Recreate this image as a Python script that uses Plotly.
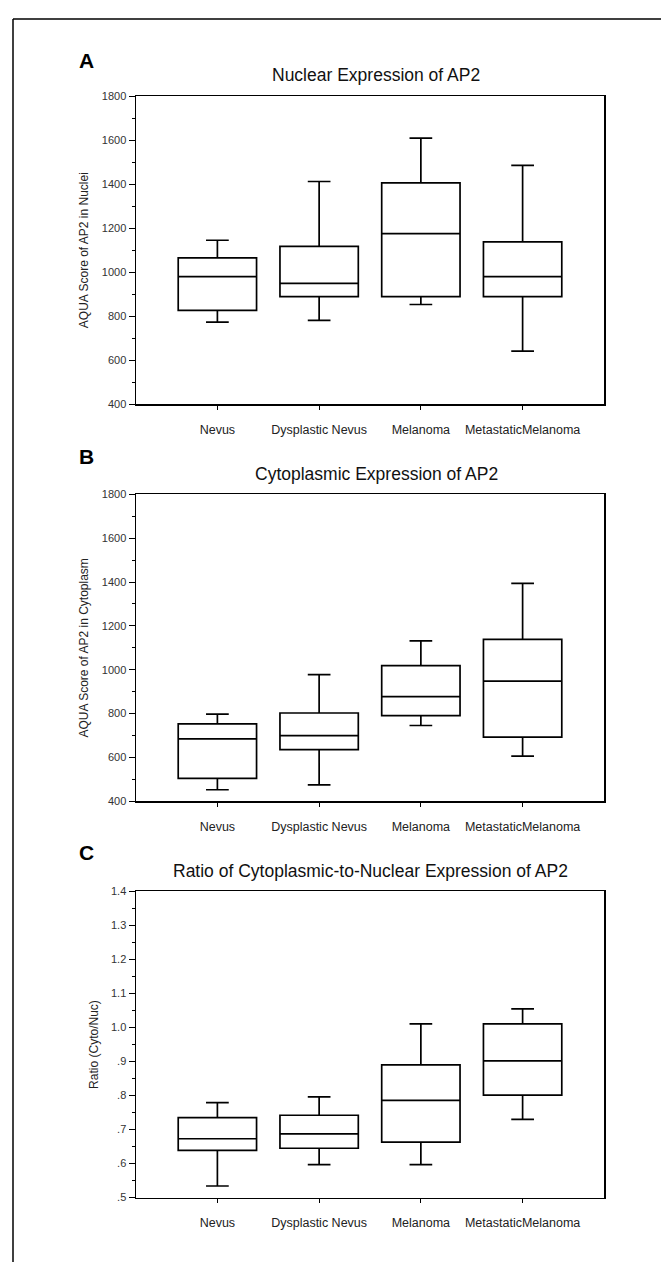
import plotly.graph_objects as go

# ---------------- data ----------------
categories = ["Nevus", "Dysplastic Nevus", "Melanoma", "MetastaticMelanoma"]

nuc_low = [773, 781, 853, 641]
nuc_q1 = [826, 889, 889, 889]
nuc_median = [980, 949, 1175, 980]
nuc_q3 = [1065, 1117, 1406, 1138]
nuc_high = [1145, 1412, 1609, 1485]

cyto_low = [453, 475, 746, 606]
cyto_q1 = [505, 636, 791, 693]
cyto_median = [685, 700, 878, 948]
cyto_q3 = [753, 803, 1019, 1139]
cyto_high = [798, 978, 1132, 1394]

ratio_low = [0.534, 0.597, 0.597, 0.730]
ratio_q1 = [0.639, 0.645, 0.663, 0.801]
ratio_median = [0.673, 0.687, 0.786, 0.902]
ratio_q3 = [0.735, 0.742, 0.890, 1.011]
ratio_high = [0.779, 0.796, 1.011, 1.055]

aqua_ticks = [400, 600, 800, 1000, 1200, 1400, 1600, 1800]
ratio_tickvals = [0.5, 0.6, 0.7, 0.8, 0.9, 1.0, 1.1, 1.2, 1.3, 1.4]
ratio_ticktext = [".5", ".6", ".7", ".8", ".9", "1.0", "1.1", "1.2", "1.3", "1.4"]

panel_letters = ["A", "B", "C"]
panel_titles = [
    "Nuclear Expression of AP2",
    "Cytoplasmic Expression of AP2",
    "Ratio of Cytoplasmic-to-Nuclear Expression of AP2",
]
y_titles = [
    "AQUA Score of AP2 in Nuclei",
    "AQUA Score of AP2 in Cytoplasm",
    "Ratio (Cyto/Nuc)",
]

# ---------------- layout geometry (pixels) ----------------
W, H = 661, 1262
FONT = "Liberation Sans, Arial, sans-serif"
plot_left, plot_right = 136, 604
panel_tops = [91, 493, 894]
panel_bottoms = [402, 803, 1203]
title_y = [70, 472, 873]
title_x = [376, 376, 370]
letter_y = [55, 455, 855]
letter_x = 86


def px_x(v):
    return v / W


def px_y(v):
    return 1 - v / H


fig = go.Figure()

series = [
    (nuc_low, nuc_q1, nuc_median, nuc_q3, nuc_high),
    (cyto_low, cyto_q1, cyto_median, cyto_q3, cyto_high),
    (ratio_low, ratio_q1, ratio_median, ratio_q3, ratio_high),
]

for i, (lo, q1, med, q3, hi) in enumerate(series):
    ax = "" if i == 0 else str(i + 1)
    fig.add_trace(
        go.Box(
            x=categories,
            q1=q1,
            median=med,
            q3=q3,
            lowerfence=lo,
            upperfence=hi,
            boxpoints=False,
            width=0.77,
            whiskerwidth=0.29,
            fillcolor="rgba(255,255,255,0)",
            line=dict(color="black", width=1.7),
            xaxis="x" + ax,
            yaxis="y" + ax,
            showlegend=False,
            hoverinfo="skip",
        )
    )

layout = dict(
    width=W,
    height=H,
    margin=dict(l=0, r=0, t=0, b=0),
    paper_bgcolor="white",
    plot_bgcolor="white",
    font=dict(family=FONT, color="black"),
    showlegend=False,
)

for i in range(3):
    ax = "" if i == 0 else str(i + 1)
    xa = dict(
        domain=[px_x(plot_left), px_x(plot_right)],
        anchor="y" + ax,
        type="category",
        range=[-0.8, 3.8],
        showline=True,
        linecolor="black",
        linewidth=1.5,
        mirror=True,
        ticks="outside",
        ticklen=4,
        tickcolor="black",
        tickwidth=1,
        showgrid=False,
        zeroline=False,
        tickfont=dict(family=FONT, size=12.5, color="#222"),
        ticklabelstandoff=9,
        fixedrange=True,
    )
    ya = dict(
        domain=[px_y(panel_bottoms[i]), px_y(panel_tops[i])],
        anchor="x" + ax,
        showline=True,
        linecolor="black",
        linewidth=1.5,
        mirror=True,
        ticks="outside",
        ticklen=6,
        tickcolor="black",
        tickwidth=1,
        showgrid=False,
        zeroline=False,
        tickfont=dict(family=FONT, size=11, color="#333"),
        title=dict(text=y_titles[i], font=dict(family=FONT, size=12, color="#222"), standoff=10),
        fixedrange=True,
    )
    if i < 2:
        ya.update(
            range=[400, 1800],
            tickmode="array",
            tickvals=aqua_ticks,
            minor=dict(tickmode="linear", tick0=400, dtick=100, ticks="outside",
                       ticklen=3, tickcolor="black"),
        )
    else:
        ya.update(
            range=[0.5, 1.4],
            tickmode="array",
            tickvals=ratio_tickvals,
            ticktext=ratio_ticktext,
            minor=dict(tickmode="linear", tick0=0.5, dtick=0.05, ticks="outside",
                       ticklen=3, tickcolor="black"),
        )
    layout["xaxis" + ax] = xa
    layout["yaxis" + ax] = ya

annotations = []
for i in range(3):
    annotations.append(dict(
        text="<b>%s</b>" % panel_letters[i],
        x=px_x(letter_x), y=px_y(letter_y[i]), xref="paper", yref="paper",
        xanchor="center", yanchor="middle", showarrow=False,
        font=dict(family=FONT, size=21, color="black"),
    ))
    annotations.append(dict(
        text=panel_titles[i],
        x=px_x(title_x[i]), y=px_y(title_y[i]), xref="paper", yref="paper",
        xanchor="center", yanchor="middle", showarrow=False,
        font=dict(family=FONT, size=17.5, color="#111"),
    ))
layout["annotations"] = annotations

layout["shapes"] = [
    dict(type="line", xref="paper", yref="paper",
         x0=px_x(13), x1=1.02, y0=px_y(13), y1=px_y(13),
         line=dict(color="black", width=1.5)),
    dict(type="line", xref="paper", yref="paper",
         x0=px_x(13), x1=px_x(13), y0=px_y(13), y1=-0.02,
         line=dict(color="black", width=1.5)),
]

fig.update_layout(**layout)
fig.write_html(
    "out.html",
    config={"displayModeBar": False, "staticPlot": True},
    post_script="document.body.style.margin='0px';document.body.style.padding='0px';",
)
